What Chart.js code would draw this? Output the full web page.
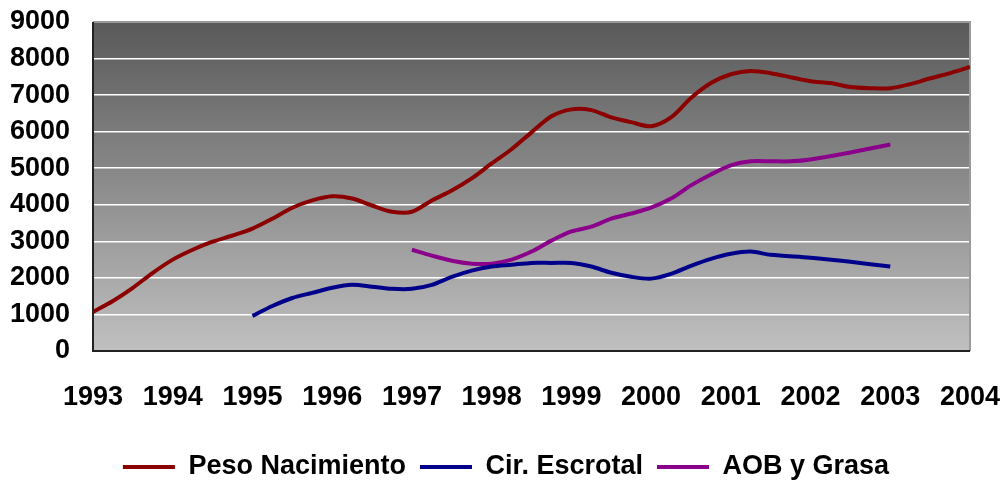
<!DOCTYPE html>
<html>
<head>
<meta charset="utf-8">
<script src="https://cdn.jsdelivr.net/npm/chart.js@4/dist/chart.umd.min.js"></script>
<style>
  html, body { margin: 0; padding: 0; background: #fff; }
  #wrap { width: 1003px; height: 481px; }
</style>
</head>
<body>
<div id="wrap"><canvas id="lineChart"></canvas></div>
<script>
const pesoYears = [1993, 1993.25, 1993.5, 1993.75, 1994, 1994.25, 1994.5, 1994.75,
    1995, 1995.25, 1995.5, 1995.75, 1996, 1996.25, 1996.5, 1996.75,
    1997, 1997.25, 1997.5, 1997.75, 1998, 1998.25, 1998.5, 1998.75,
    1999, 1999.25, 1999.5, 1999.75, 2000, 2000.25, 2000.5, 2000.75,
    2001, 2001.25, 2001.5, 2001.75, 2002, 2002.25, 2002.5, 2002.75,
    2003, 2003.25, 2003.5, 2003.75, 2004];
const pesoValues = [1070, 1370, 1730, 2140, 2500, 2770, 2990, 3160,
    3350, 3620, 3920, 4120, 4230, 4170, 3980, 3810,
    3810, 4120, 4390, 4720, 5130, 5520, 5980, 6420,
    6610, 6590, 6390, 6260, 6150, 6390, 6920, 7330,
    7570, 7660, 7600, 7490, 7380, 7330, 7220, 7190,
    7190, 7300, 7460, 7600, 7770];

const escrotalYears = [1995, 1995.25, 1995.5, 1995.75, 1996, 1996.25, 1996.5, 1996.75,
    1997, 1997.25, 1997.5, 1997.75, 1998, 1998.25, 1998.5, 1998.75,
    1999, 1999.25, 1999.5, 1999.75, 2000, 2000.25, 2000.5, 2000.75,
    2001, 2001.25, 2001.5, 2002, 2002.5, 2003];
const escrotalValues = [960, 1230, 1450, 1590, 1730, 1810, 1760, 1700,
    1700, 1810, 2030, 2200, 2310, 2360, 2410, 2410,
    2410, 2310, 2140, 2030, 1980, 2110, 2330, 2520,
    2660, 2720, 2630, 2550, 2440, 2310];

const aobYears = [1997, 1997.25, 1997.5, 1997.75, 1998, 1998.25, 1998.5, 1998.75,
    1999, 1999.25, 1999.5, 1999.75, 2000, 2000.25, 2000.5, 2000.75,
    2001, 2001.25, 2001.5, 2001.75, 2002, 2002.5, 2003];
const aobValues = [2770, 2610, 2470, 2390, 2390, 2500, 2720, 3020,
    3270, 3400, 3620, 3760, 3920, 4170, 4530, 4830,
    5080, 5190, 5190, 5190, 5240, 5430, 5650];

const seriesNames = ['Peso Nacimiento', 'Cir. Escrotal', 'AOB y Grasa'];
const seriesColors = ['#8b0000', '#00008b', '#8b008b'];
const yearTicks = [1993, 1994, 1995, 1996, 1997, 1998, 1999, 2000, 2001, 2002, 2003, 2004];

function toPoints(xs, ys) {
    return xs.map((x, i) => ({ x: x, y: ys[i] }));
}

// gray gradient fill behind the plot plus the Excel-like frame
const plotBackground = {
    id: 'plotBackground',
    afterLayout(chart) {
        // legend sits a bit right of centre and low in the reference
        const lg = chart.legend;
        const dx = 506 - (lg.left + lg.right) / 2;
        lg.left += dx;
        lg.right += dx;
        lg.top = 439.5;
        lg.bottom = lg.top + lg.height;
    },
    beforeDraw(chart) {
        const { ctx, chartArea: a } = chart;
        const g = ctx.createLinearGradient(0, a.top, 0, a.bottom);
        g.addColorStop(0, '#595959');
        g.addColorStop(1, '#c0c0c0');
        ctx.save();
        ctx.fillStyle = g;
        ctx.fillRect(a.left, a.top, a.right - a.left, a.bottom - a.top);
        ctx.restore();
    },
    beforeDatasetsDraw(chart) {
        const { ctx, chartArea: a } = chart;
        ctx.save();
        ctx.lineWidth = 2;
        ctx.strokeStyle = '#9a9a9a';
        ctx.beginPath();
        ctx.moveTo(a.left, a.top);
        ctx.lineTo(a.right, a.top);
        ctx.lineTo(a.right, a.bottom);
        ctx.stroke();
        ctx.strokeStyle = '#222';
        ctx.beginPath();
        ctx.moveTo(a.left, a.top);
        ctx.lineTo(a.left, a.bottom);
        ctx.lineTo(a.right, a.bottom);
        ctx.stroke();
        ctx.restore();
    }
};

const boldFont = { family: 'Liberation Sans, Arial, sans-serif', size: 27, weight: 'bold' };

new Chart(document.getElementById('lineChart'), {
    type: 'line',
    data: {
        datasets: [
            { label: seriesNames[0], data: toPoints(pesoYears, pesoValues) },
            { label: seriesNames[1], data: toPoints(escrotalYears, escrotalValues) },
            { label: seriesNames[2], data: toPoints(aobYears, aobValues) }
        ].map((d, i) => Object.assign(d, {
            borderColor: seriesColors[i],
            backgroundColor: seriesColors[i],
            borderWidth: 4,
            pointRadius: 0,
            tension: 0.3,
            fill: false
        }))
    },
    options: {
        responsive: true,
        maintainAspectRatio: false,
        animation: false,
        layout: { padding: { top: 22, right: 33, left: 0, bottom: 0 } },
        plugins: {
            tooltip: { enabled: false },
            legend: {
                position: 'bottom',
                labels: {
                    color: '#000',
                    boxWidth: 52,
                    boxHeight: 4,
                    padding: 14,
                    font: boldFont,
                    generateLabels(chart) {
                        return Chart.defaults.plugins.legend.labels.generateLabels(chart)
                            .map(l => Object.assign(l, { lineWidth: 0 }));
                    }
                }
            }
        },
        scales: {
            x: {
                type: 'linear',
                min: 1993,
                max: 2004,
                afterBuildTicks(scale) {
                    scale.ticks = yearTicks.map(v => ({ value: v }));
                },
                afterFit(scale) {
                    scale.height = 79;
                    scale.paddingLeft = 0;
                    scale.paddingRight = 0;
                },
                grid: { display: false, drawTicks: false },
                border: { display: false },
                ticks: {
                    color: '#000',
                    font: boldFont,
                    padding: 30,
                    maxRotation: 0,
                    autoSkip: false,
                    callback: v => String(v)
                }
            },
            y: {
                min: 0,
                max: 9000,
                afterFit(scale) {
                    scale.width = 93;
                    scale.paddingTop = 0;
                    scale.paddingBottom = 0;
                },
                grid: { color: '#ffffff', lineWidth: 1.5, drawTicks: false },
                border: { display: false },
                ticks: {
                    stepSize: 1000,
                    autoSkip: false,
                    color: '#000',
                    font: boldFont,
                    padding: 23,
                    callback: v => String(v)
                }
            }
        }
    },
    plugins: [plotBackground]
});
</script>
</body>
</html>
